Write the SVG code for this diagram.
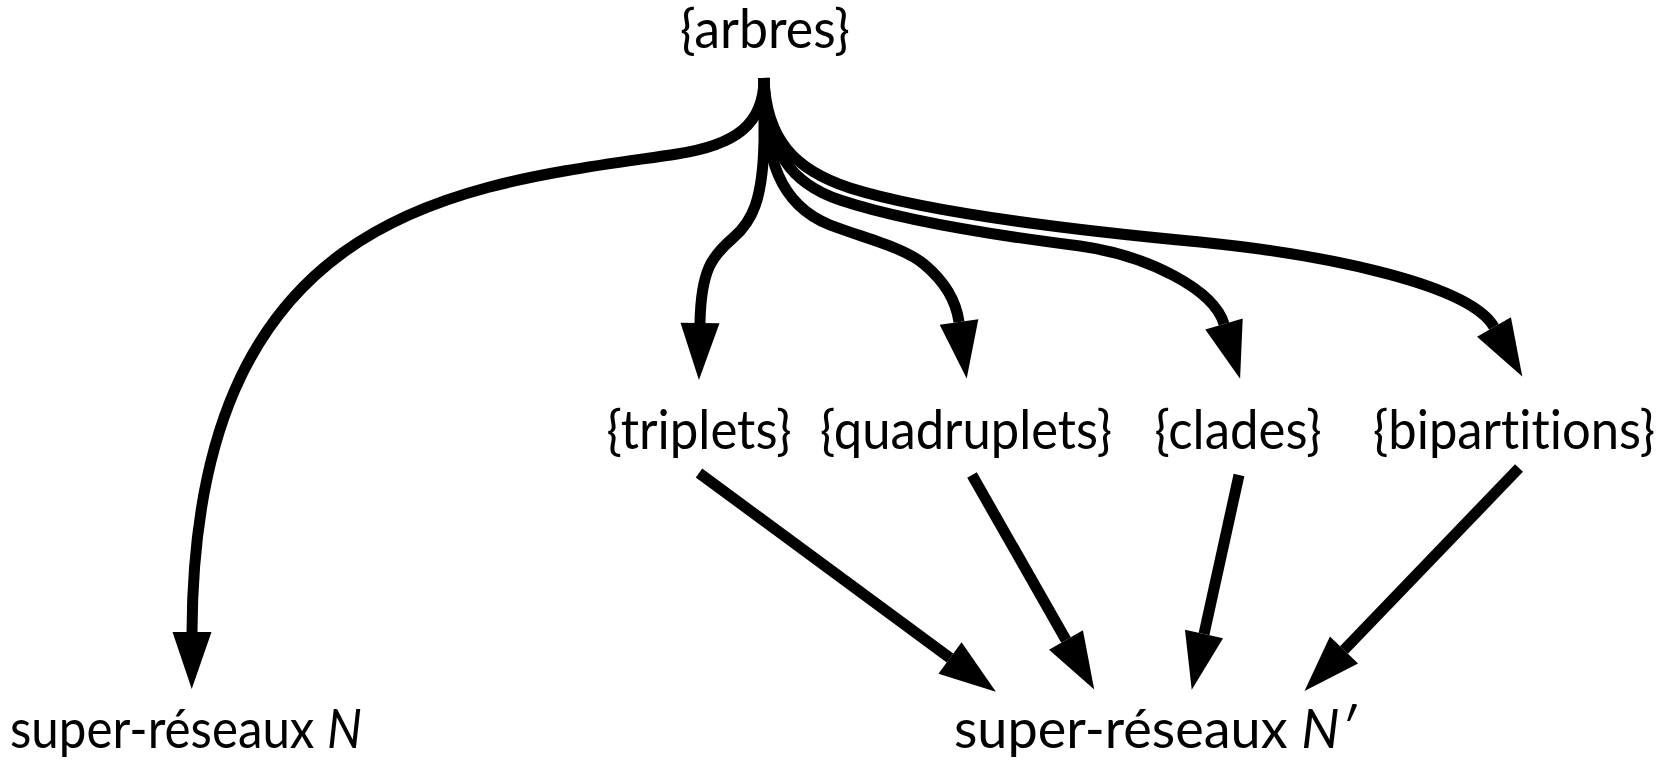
<svg xmlns="http://www.w3.org/2000/svg" width="1672" height="760" viewBox="0 0 1672 760">
<style>
text{font-family:Lato,"Open Sans","Liberation Sans",sans-serif;font-size:54px;fill:#000;text-anchor:middle;font-variant-ligatures:none;font-feature-settings:"liga" 0}
.c{fill:none;stroke:#000;stroke-width:11;marker-end:url(#ah)}
</style>
<defs>
<marker id="ah" markerUnits="userSpaceOnUse" markerWidth="60" markerHeight="40" refX="0" refY="19.5" orient="auto" overflow="visible">
<path d="M0,0 L57,19.5 L0,39 Z" fill="#000"/>
</marker>
</defs>
<rect width="1672" height="760" fill="#fff"/>
<g id="connectors">
<path class="c" d="M764,78 C764,125 735,145 677,154 C470,185 194,200 192,632"/>
<path class="c" d="M764,78 L764,140 C763,200 752,222 733,238 C712,256 701,270 700,323"/>
<path class="c" d="M764,78 C764,160 780,205 830,225 C870,240 905,248 925,265 C945,282 956,300 959,322"/>
<path class="c" d="M764,78 C766,152 792,184 840,200 C900,220 1000,236 1080,246 C1150,256 1214,290 1224,324"/>
<path class="c" d="M764,78 C766,140 795,170 850,188 C920,210 1050,228 1200,242 C1330,255 1470,285 1494,327"/>
<path class="c" d="M699,473 L950,658"/>
<path class="c" d="M972,475 L1066,640"/>
<path class="c" d="M1239,475 L1204,634"/>
<path class="c" d="M1519,468 L1344,650"/>
</g>
<g id="arbres"><text x="765" y="48" textLength="170" lengthAdjust="spacingAndGlyphs">{arbres}</text></g>
<g id="triplets"><text x="699" y="449" textLength="185" lengthAdjust="spacingAndGlyphs">{triplets}</text></g>
<g id="quadruplets"><text x="966" y="449" textLength="292" lengthAdjust="spacingAndGlyphs">{quadruplets}</text></g>
<g id="clades"><text x="1238" y="449" textLength="167" lengthAdjust="spacingAndGlyphs">{clades}</text></g>
<g id="bipartitions"><text x="1514" y="449" textLength="282" lengthAdjust="spacingAndGlyphs">{bipartitions}</text></g>
<g id="superN"><text x="186" y="748" textLength="352" lengthAdjust="spacingAndGlyphs">super-réseaux <tspan font-style="italic">N</tspan></text></g>
<g id="superN2"><text x="1155" y="748" textLength="402" lengthAdjust="spacingAndGlyphs">super-réseaux <tspan font-style="italic">N′</tspan></text></g>
</svg>
